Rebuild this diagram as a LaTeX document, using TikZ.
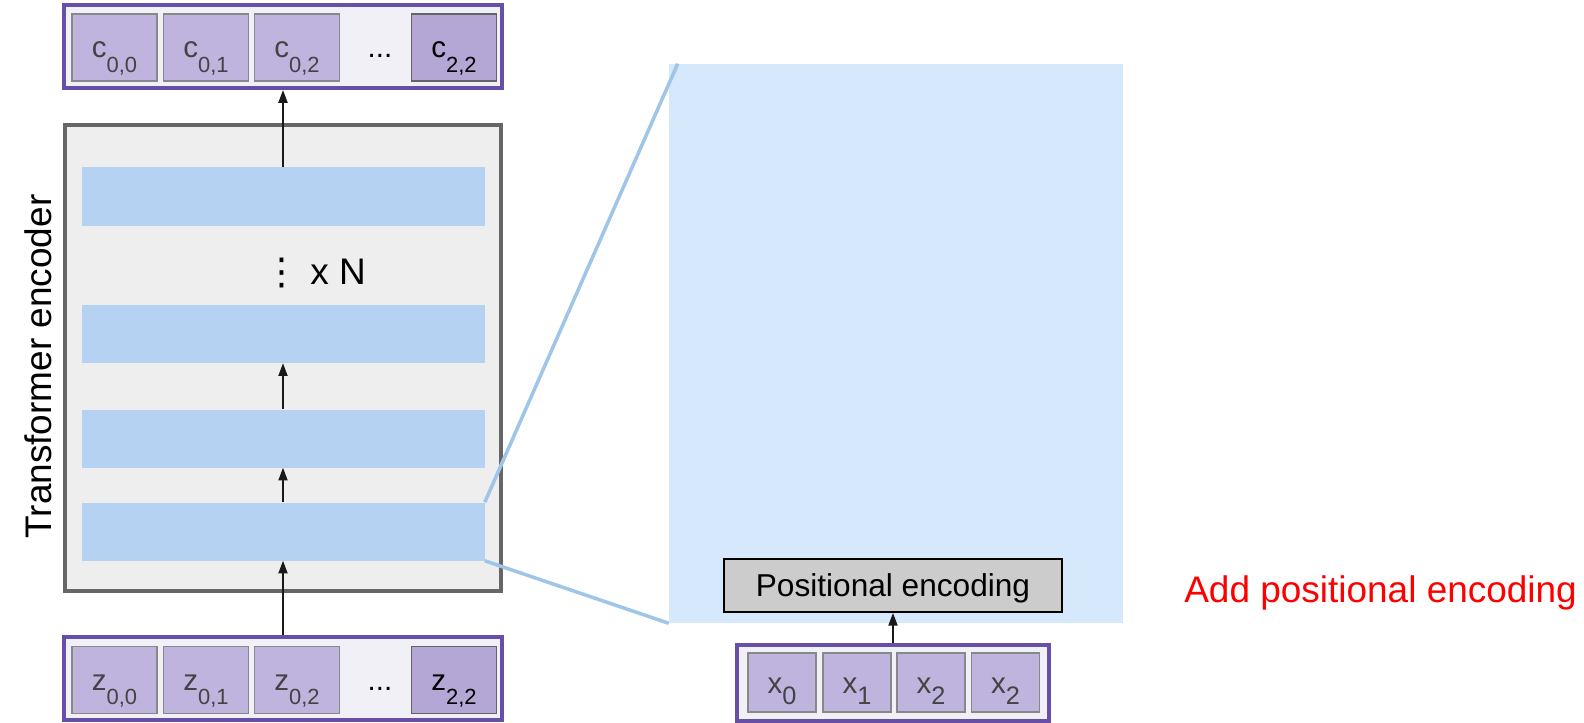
\documentclass[tikz,border=0pt]{standalone}
\usepackage{fontspec}
\setmainfont{Liberation Sans}
\newfontfamily\symfont{DejaVu Sans}
\usepackage{xcolor}
\usepackage{tikz}
\usetikzlibrary{positioning,arrows.meta,calc}

\definecolor{cellfill}{RGB}{191,180,221}
\definecolor{cellline}{RGB}{136,136,136}
\definecolor{celltext}{RGB}{67,67,67}
\definecolor{darkfill}{RGB}{180,167,214}
\definecolor{darkline}{RGB}{100,100,100}
\definecolor{rowfill}{RGB}{241,240,246}
\definecolor{rowline}{RGB}{103,78,167}
\definecolor{encfill}{RGB}{238,238,238}
\definecolor{encline}{RGB}{102,102,102}
\definecolor{layerfill}{RGB}{182,210,242}
\definecolor{panelfill}{RGB}{214,232,252}
\definecolor{zoomcol}{RGB}{159,197,232}
\definecolor{pefill}{RGB}{204,204,204}

\newcommand{\ctok}[2]{#1\raisebox{-0.36cm}{\fontsize{15.6}{18}\selectfont #2}}
\newcommand{\xtok}[2]{#1\raisebox{-0.29cm}{\fontsize{18}{21}\selectfont #2}}

\begin{document}
\begin{tikzpicture}[
  every node/.style={font=\fontsize{21}{25}\selectfont},
  row/.style={draw=rowline,line width=3pt,fill=rowfill,minimum width=10.95cm,minimum height=2.075cm,inner sep=0pt},
  cell/.style={draw=cellline,line width=1.1pt,fill=cellfill,text=celltext,minimum width=2.125cm,minimum height=1.675cm,text height=0.525cm,text depth=0pt,inner sep=0pt},
  darkcell/.style={cell,draw=darkline,fill=darkfill,text=black},
  xcell/.style={cell,minimum width=1.7cm,minimum height=1.475cm,text height=0.54cm,font=\fontsize{21}{25}\selectfont},
  layer/.style={fill=layerfill,minimum width=10.075cm,minimum height=1.45cm,inner sep=0pt},
  arrow/.style={-{Triangle[length=9pt,width=6.5pt]},line width=1pt,draw=black!90},
  zoomline/.style={draw=zoomcol,line width=2.5pt}
]
  \useasboundingbox (0,0) rectangle (39.6,-18.075);

  \node[fill=panelfill,minimum width=11.35cm,minimum height=13.975cm,inner sep=0pt] (zoom) at (22.4,-8.5875) {};

  \node[draw=encline,line width=2.8pt,fill=encfill,minimum width=10.9cm,minimum height=11.65cm,inner sep=0pt] (enc) at (7.075,-8.95) {};
  \node[layer] (l1) at (7.075,-4.9125) {};
  \node[layer] (l2) at (7.075,-8.35) {};
  \node[layer] (l3) at (7.075,-10.9625) {};
  \node[layer] (l4) at (7.075,-13.2875) {};
  \node[font=\fontsize{26.3}{30}\selectfont,rotate=90] (enclabel) at (0.9625,-9.1625) {Transformer encoder};
  \node[font=\fontsize{26.3}{30}\selectfont] (rep) at (7.86,-6.825) {{\symfont ⋮}\ x N};

  \draw[zoomline] (l4.north east) -- ($(zoom.north west)+(0.225,0)$);
  \draw[zoomline] (l4.south east) -- (zoom.south west);

  \node[row] (crow) at (7.075,-1.1625) {};
  \node[cell] (c00) at (2.8625,-1.1875) {\ctok{c}{0,0}};
  \node[cell] (c01) at (5.15,-1.1875) {\ctok{c}{0,1}};
  \node[cell] (c02) at (7.425,-1.1875) {\ctok{c}{0,2}};
  \node[text height=0.525cm,text depth=0pt,inner sep=0pt] (cdots) at (9.5,-1.1875) {...};
  \node[darkcell] (c22) at (11.35,-1.1875) {\ctok{c}{2,2}};

  \node[row] (zrow) at (7.075,-16.9625) {};
  \node[cell] (z00) at (2.8625,-17.0) {\ctok{z}{0,0}};
  \node[cell] (z01) at (5.15,-17.0) {\ctok{z}{0,1}};
  \node[cell] (z02) at (7.425,-17.0) {\ctok{z}{0,2}};
  \node[text height=0.525cm,text depth=0pt,inner sep=0pt] (zdots) at (9.5,-17.0) {...};
  \node[darkcell] (z22) at (11.35,-17.0) {\ctok{z}{2,2}};

  \node[draw=black,line width=1.4pt,fill=pefill,minimum width=8.45cm,minimum height=1.325cm,inner sep=0pt,text height=0.567cm,text depth=0pt,font=\fontsize{22.5}{27}\selectfont] (pe) at (22.325,-14.6375) {Positional encoding};

  \node[row,minimum width=7.8cm,minimum height=1.9cm] (xrow) at (22.325,-17.075) {};
  \node[xcell] (x0) at (19.55,-17.0625) {\xtok{x}{0}};
  \node[xcell] (x1) at (21.425,-17.0625) {\xtok{x}{1}};
  \node[xcell] (x2) at (23.275,-17.0625) {\xtok{x}{2}};
  \node[xcell] (x3) at (25.1375,-17.0625) {\xtok{x}{2}};

  \node[anchor=base west,text=red,inner sep=0pt,font=\fontsize{26.3}{30}\selectfont] (note) at (29.6,-15.05) {Add positional encoding};

  \draw[arrow] (zrow) -- (l4);
  \draw[arrow] (l4) -- (l3);
  \draw[arrow] (l3) -- (l2);
  \draw[arrow] (l1) -- (crow);
  \draw[arrow] (xrow) -- (pe);
\end{tikzpicture}
\end{document}
